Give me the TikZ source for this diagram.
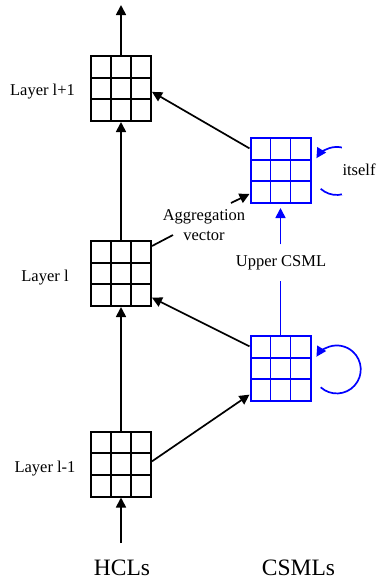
\documentclass[tikz,border=0pt]{standalone}
\usepackage{fontspec}
\setmainfont{Liberation Serif}
\usetikzlibrary{calc,arrows.meta}
\begin{document}
\begin{tikzpicture}[x=1pt,y=-1pt,
  tri/.style={-{Triangle[length=10pt,width=10pt]}},
  gridbox/.style={draw=#1, line width=2pt, minimum width=60pt, minimum height=65pt, inner sep=0pt,
    path picture={
      \coordinate (gsw) at (path picture bounding box.south west);
      \coordinate (gne) at (path picture bounding box.north east);
      \foreach \f in {0.3333,0.6667}{
        \draw[#1, line width=1.8pt] ($(gsw)!\f!(gsw-|gne)$) -- ($(gsw|-gne)!\f!(gne)$);
        \draw[#1, line width=1.8pt] ($(gsw)!\f!(gsw|-gne)$) -- ($(gsw-|gne)!\f!(gne)$);
      }}},
  lbl/.style={font=\fontsize{16.5}{19}\selectfont, inner sep=0pt},
  big/.style={font=\fontsize{23.5}{27}\selectfont, inner sep=0pt},
  conn/.style={line width=1.7pt, tri},
]
\useasboundingbox (0,0) rectangle (378,579);

% grids
\node[gridbox=black] (hl1) at (121,88.5) {};
\node[gridbox=black] (hl) at (121,273.5) {};
\node[gridbox=black] (hlm) at (121,464) {};
\node[gridbox=blue] (cu) at (280.5,170.5) {};
\node[gridbox=blue] (cl) at (280.5,368.5) {};

% labels
\node[lbl, anchor=base] (t1) at (42.5,95.5) {Layer l+1};
\node[lbl, anchor=base] (t2) at (45,281.5) {Layer l};
\node[lbl, anchor=base] (t3) at (45,472.5) {Layer l-1};
\node[big, anchor=base] (hcl) at (122,575) {HCLs};
\node[big, anchor=base] (csml) at (298.5,575) {CSMLs};
\node[lbl, anchor=base] (agg1) at (204,220) {Aggregation};
\node[lbl, anchor=base] (agg2) at (204,240) {vector};
\node[lbl, anchor=base, inner xsep=2pt, inner ysep=11pt] (ucsml) at (281,266.5) {Upper CSML};

% vertical HCL arrows
\coordinate (tout) at (121,5);
\coordinate (bin) at (121,543);
\draw[conn] (hl1.north) -- (tout);
\draw[conn] (hl.north) -- (hl1.south);
\draw[conn] (hlm.north) -- (hl.south);
\draw[conn] (bin) -- (hlm.south);

% cross arrows
\draw[conn] ($(cu.north west)!0.17!(cu.south west)$) -- ($(hl1.north east)!0.55!(hl1.south east)$);
\draw[conn] ($(cl.north west)!0.17!(cl.south west)$) -- ($(hl.north east)!0.86!(hl.south east)$);
\draw[conn] ($(hlm.north east)!0.46!(hlm.south east)$) -- ($(cl.north west)!0.89!(cl.south west)$);

% aggregation vector pointers
\draw[conn] ($(agg1.base)+(27,-17)$) -- ($(cu.north west)!0.85!(cu.south west)$);
\draw[line width=1.7pt] ($(agg2.base)+(-31,-5)$) -- ($(hl.north east)+(0,6)$);

% upper CSML
\draw[blue, line width=1.7pt] (cl.north) -- (cl.north |- ucsml.south);
\draw[blue, conn, shorten >=4pt] (cu.south |- ucsml.north) -- (cu.south);

% self loops
\draw[blue, conn] ($(cu.east)+(9.2,18.3)$) arc[start angle=132, end angle=-148, radius=24];
\draw[blue, conn] ($(cl.east)+(9.2,18.8)$) arc[start angle=132, end angle=-148, radius=24];
\node[lbl, anchor=base, fill=white, inner xsep=1pt, minimum height=50pt] (its) at (359,175.5) {itself};
\end{tikzpicture}
\end{document}
